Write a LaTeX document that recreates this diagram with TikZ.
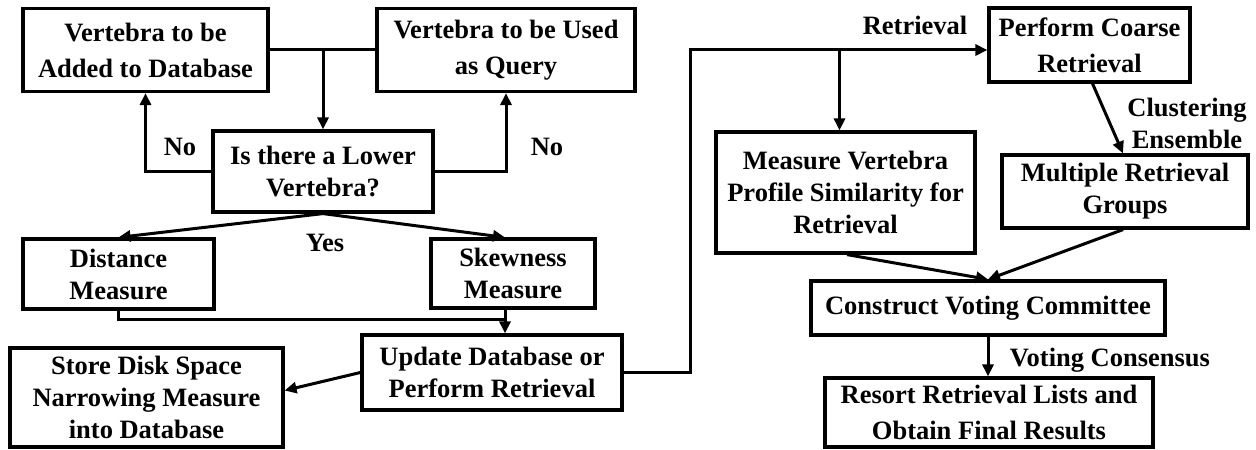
\documentclass[tikz,border=0pt]{standalone}
\usepackage{fontspec}
\setmainfont{Liberation Serif}
\usetikzlibrary{arrows.meta}
\tikzset{
  box/.style={draw, line width=1.6pt, align=center, inner sep=0pt,
    font=\fontsize{13.25}{16}\selectfont\bfseries},
  widebox/.style={box, font=\fontsize{13.25}{18}\selectfont\bfseries},
  lbl/.style={align=center, inner sep=0pt,
    font=\fontsize{13.25}{16}\selectfont\bfseries},
  link/.style={line width=1.5pt},
  arr/.style={line width=1.5pt, -{Triangle[length=6pt,width=5.5pt]}}
}
\begin{document}
\begin{tikzpicture}[x=0.5pt, y=-0.5pt]
\useasboundingbox (0,0) rectangle (1256,449);
% boxes (sizes in pt = half of the drawing units)
\node[widebox, minimum width=122.5pt, minimum height=41.5pt] (add) at (145.5,50) {Vertebra to be\\Added to Database};
\node[widebox, minimum width=129pt, minimum height=41.5pt] (query) at (506,50) {Vertebra to be Used\\as Query};
\node[box, minimum width=110pt, minimum height=40.5pt] (lower) at (323,171.5) {Is there a Lower\\Vertebra?};
\node[box, minimum width=95.5pt, minimum height=35pt] (dist) at (118.5,274) {Distance\\Measure};
\node[box, minimum width=82pt, minimum height=34.5pt] (skew) at (513,273.5) {Skewness\\Measure};
\node[box, minimum width=130pt, minimum height=37.5pt] (update) at (492,372.5) {Update Database or\\Perform Retrieval};
\node[box, minimum width=136.5pt, minimum height=49.5pt] (store) at (146.5,397.5) {Store Disk Space\\Narrowing Measure\\into Database};
\node[widebox, minimum width=100.5pt, minimum height=37pt] (coarse) at (1089.5,45) {Perform Coarse\\Retrieval};
\node[box, minimum width=129.5pt, minimum height=60.5pt] (profile) at (845.5,192.5) {Measure Vertebra\\Profile Similarity for\\Retrieval};
\node[box, minimum width=123pt, minimum height=36.5pt] (groups) at (1125,191.5) {Multiple Retrieval\\Groups};
\node[box, minimum width=177pt, minimum height=27pt] (vote) at (988,308) {Construct Voting Committee};
\node[widebox, minimum width=164pt, minimum height=34.5pt] (final) at (989,412.5) {Resort Retrieval Lists and\\Obtain Final Results};

% labels
\node[lbl] (no1) at (180,147) {No};
\node[lbl] (no2) at (547,147) {No};
\node[lbl] (yes) at (325,243) {Yes};
\node[lbl] (retr) at (915,25) {Retrieval};
\node[lbl] (clus) at (1187,123) {Clustering\\Ensemble};
\node[lbl] (cons) at (1110,360) {Voting Consensus};

% input boxes feed the question
\coordinate (merge) at (323,50);
\draw[link] (add.east) -- (query.west);
\draw[arr] (merge) -- (lower.north);
\draw[arr] (lower.west) -| (add.south);
\draw[arr] (lower.east) -| (query.south);

% yes branch
\draw[arr] (lower.south) -- (dist.north);
\draw[arr] (lower.south) -- ([xshift=-4pt]skew.north);
\draw[link] (dist.south) |- ([xshift=-4pt,yshift=-5pt]skew.south);
\draw[arr] ([xshift=-4pt]skew.south) -- ([xshift=-4pt]skew.south |- update.north);
\draw[arr] (update.west) -- ([yshift=3.5pt]store.east);

% retrieval path
\coordinate (turn) at (690,50);
\draw[arr] (update.east) -| (turn) -- (turn -| coarse.west);
\draw[arr] ([xshift=-3pt]profile.north |- turn) -- ([xshift=-3pt]profile.north);
\draw[arr] ([xshift=1.5pt]coarse.south) -- ([xshift=-1pt]groups.north);
\draw[arr] ([xshift=0.75pt]profile.south) -- (vote.north);
\draw[arr] ([xshift=-1pt]groups.south) -- (vote.north);
\draw[arr] (vote.south) -- (vote.south |- final.north);
\end{tikzpicture}
\end{document}
